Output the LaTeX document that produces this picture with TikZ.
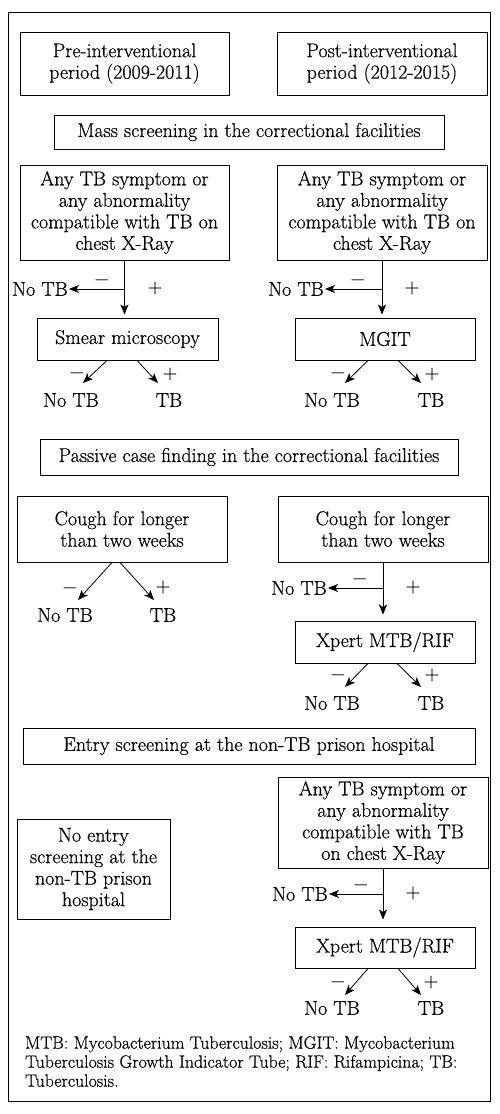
\documentclass[tikz,border=0pt]{standalone}
\usepackage{fontspec}
\setmainfont{Latin Modern Roman}[FakeBold=0.5]
\usetikzlibrary{arrows.meta,calc}
\newcommand{\bfnt}{\fontsize{20}{21.5}\selectfont}
\newcommand{\ffnt}{\fontsize{17.8}{19}\selectfont}
\begin{document}
\begin{tikzpicture}[x=1pt,y=-1pt,
  box/.style={draw, line width=0.9pt, align=center, inner sep=2pt, font=\bfnt},
  lab/.style={font=\bfnt, inner sep=1pt},
  sgn/.style={font=\bfnt, inner sep=0pt},
  arr/.style={line width=0.8pt, -{Stealth[length=10pt,width=8pt,inset=2.5pt]}}]
\useasboundingbox (0,0) rectangle (500,1114);
\draw[line width=0.9pt] (8,12) rectangle (490,1101);

% headers
\node[box, minimum width=209pt, minimum height=63pt] (pre) at (124.5,63.5) {Pre-interventional\\period (2009-2011)};
\node[box, minimum width=210pt, minimum height=63pt] (post) at (382,63.5) {Post-interventional\\period (2012-2015)};

% mass screening
\node[box, minimum width=390pt, minimum height=34pt] (mass) at (249,132) {Mass screening in the correctional facilities};
\node[box, minimum width=209pt, minimum height=95pt] (any1) at (124.5,212.5) {Any TB symptom or\\any abnormality\\compatible with TB on\\chest X-Ray};
\node[box, minimum width=210pt, minimum height=95pt] (any2) at (382,212.5) {Any TB symptom or\\any abnormality\\compatible with TB on\\chest X-Ray};
\node[box, minimum width=181pt, minimum height=42pt] (smear) at (127.5,339) {Smear microscopy};
\node[box, minimum width=180pt, minimum height=42pt] (mgit) at (385,339) {MGIT};

\node[lab] (n1) at (40,289) {No TB};
\node[sgn] at (102,280) {$-$};
\node[sgn] at (155,288) {+};
\draw[arr, shorten >=3pt] (any1.south) -- (any1.south |- smear.north);
\draw[arr] (any1.south |- n1) -- (n1.east);

\node[lab] (n2) at (71,400) {No TB};
\node[lab] (t2) at (169,400) {TB};
\node[sgn] at (77,373) {$-$};
\node[sgn] at (170,374) {+};
\draw[arr] ($(smear.south)+(-20.5,0)$) -- ($(n2)+(12,-17)$);
\draw[arr] ($(smear.south)+(9.5,0)$) -- ($(t2)+(-11,-17)$);

\node[lab] (n4) at (296,289) {No TB};
\node[sgn] at (358,280) {$-$};
\node[sgn] at (412,288) {+};
\draw[arr, shorten >=3pt] (any2.south) -- (any2.south |- mgit.north);
\draw[arr] (any2.south |- n4) -- (n4.east);

\node[lab] (n3) at (332,400) {No TB};
\node[lab] (t3) at (431,400) {TB};
\node[sgn] at (338,373) {$-$};
\node[sgn] at (432,374) {+};
\draw[arr] ($(mgit.south)+(-17,0)$) -- ($(n3)+(13,-17)$);
\draw[arr] ($(mgit.south)+(13,0)$) -- ($(t3)+(-10,-17)$);

% passive case finding
\node[box, minimum width=418pt, minimum height=36pt] (passive) at (249,457) {Passive case finding in the correctional facilities};
\node[box, minimum width=210pt, minimum height=66pt] (cough1) at (122,529) {Cough for longer\\than two weeks};
\node[box, minimum width=210pt, minimum height=66pt] (cough2) at (383,529) {Cough for longer\\than two weeks};

\node[lab] (n5) at (65,615) {No TB};
\node[lab] (t5) at (163,615) {TB};
\node[sgn] at (70,588) {$-$};
\node[sgn] at (163,587) {+};
\draw[arr] ($(cough1.south)+(-10,0)$) -- ($(n5)+(13,-15)$);
\draw[arr] ($(cough1.south)+(-2,0)$) -- ($(t5)+(-9,-15)$);

\node[box, minimum width=180pt, minimum height=42pt] (xp1) at (385,642) {Xpert MTB/RIF};
\node[lab] (n6) at (299,588) {No TB};
\node[sgn] at (360,579) {$-$};
\node[sgn] at (413,587) {+};
\draw[arr, shorten >=6pt] (cough2.south) -- (cough2.south |- xp1.north);
\draw[arr] (cough2.south |- n6) -- (n6.east);

\node[lab] (n7) at (332,703) {No TB};
\node[lab] (t7) at (431,703) {TB};
\node[sgn] at (338,675) {$-$};
\node[sgn] at (432,675) {+};
\draw[arr] ($(xp1.south)+(-17,0)$) -- ($(n7)+(13,-16)$);
\draw[arr] ($(xp1.south)+(12,0)$) -- ($(t7)+(-10,-16)$);

% entry screening
\node[box, minimum width=452pt, minimum height=36pt] (entry) at (249,746) {Entry screening at the non-TB prison hospital};
\node[box, minimum width=153pt, minimum height=100pt] (noentry) at (93.5,869) {No entry\\screening at the\\non-TB prison\\hospital};
\node[box, minimum width=210pt, minimum height=91pt] (any3) at (383,822.5) {Any TB symptom or\\any abnormality\\compatible with TB\\on chest X-Ray};
\node[box, minimum width=180pt, minimum height=41pt] (xp2) at (385,947.5) {Xpert MTB/RIF};

\node[lab] (n8) at (300,894) {No TB};
\node[sgn] at (361,885) {$-$};
\node[sgn] at (413,893) {+};
\draw[arr, shorten >=7pt] (any3.south) -- (any3.south |- xp2.north);
\draw[arr] (any3.south |- n8) -- (n8.east);

\node[lab] (n9) at (332,1008) {No TB};
\node[lab] (t9) at (431,1008) {TB};
\node[sgn] at (338,982) {$-$};
\node[sgn] at (431,982) {+};
\draw[arr] ($(xp2.south)+(-17,0)$) -- ($(n9)+(13,-13)$);
\draw[arr] ($(xp2.south)+(13,0)$) -- ($(t9)+(-10,-13)$);

% footnote
\node[anchor=north west, align=left, inner sep=0pt, font=\ffnt] (foot) at (25,1036) {MTB: Mycobacterium Tuberculosis; MGIT: Mycobacterium\\Tuberculosis Growth Indicator Tube; RIF: Rifampicina; TB:\\Tuberculosis.};
\end{tikzpicture}
\end{document}
